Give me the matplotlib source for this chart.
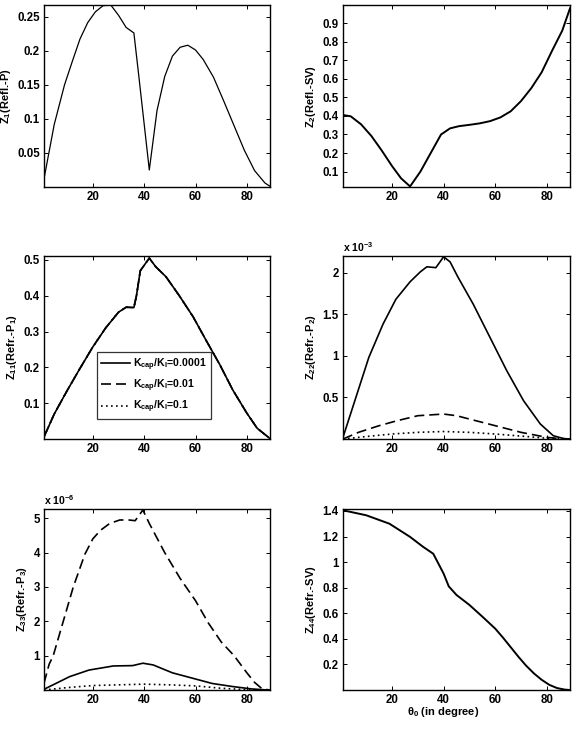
import numpy as np
import matplotlib
matplotlib.use("Agg")
import matplotlib.pyplot as plt

plt.rcParams['font.family'] = ['Liberation Sans', 'DejaVu Sans']
plt.rcParams['font.weight'] = 'bold'
plt.rcParams['mathtext.fontset'] = 'custom'
plt.rcParams['mathtext.rm'] = 'Liberation Sans:bold'
plt.rcParams['mathtext.it'] = 'Liberation Sans:bold'
plt.rcParams['mathtext.bf'] = 'Liberation Sans:bold'
plt.rcParams['mathtext.default'] = 'rm'

# ---------------- data ----------------
# Z1 (Refl.-P)
z1_x = [1, 5, 9, 12, 15, 18, 21, 24, 27, 30, 33, 36, 38, 42, 45, 48, 51, 54, 57, 60, 63, 67, 71, 75, 79, 83, 87, 89]
z1_y = [0.012, 0.092, 0.150, 0.184, 0.217, 0.241, 0.257, 0.266, 0.267, 0.252, 0.234, 0.226, 0.160, 0.025,
        0.112, 0.162, 0.192, 0.205, 0.208, 0.201, 0.187, 0.161, 0.126, 0.090, 0.054, 0.024, 0.006, 0.001]

# Z2 (Refl.-SV)
z2_x = [1, 4, 8, 12, 16, 20, 23.5, 27, 31, 35, 39, 42.5, 46, 50, 54, 58, 62, 66, 70, 74, 78, 82, 86, 89]
z2_y = [0.405, 0.398, 0.355, 0.292, 0.214, 0.13, 0.064, 0.02, 0.10, 0.20, 0.30, 0.333, 0.345, 0.352, 0.36,
        0.372, 0.392, 0.425, 0.48, 0.55, 0.635, 0.75, 0.86, 0.98]

# Z11 (Refr.-P1) -- the three ratios coincide
z11_x = [1, 5, 10, 15, 20, 25, 30, 33, 36, 37, 38.5, 42, 44.5, 48.5, 53.5, 59, 64, 69.5, 74.5, 80, 84, 88, 89]
z11_y = [0.006, 0.07, 0.135, 0.197, 0.257, 0.31, 0.354, 0.368, 0.367, 0.40, 0.47, 0.505, 0.481, 0.453,
         0.402, 0.342, 0.277, 0.207, 0.137, 0.072, 0.030, 0.007, 0.001]

# Z22 (Refr.-P2), units of 1e-3
z22_x = [1, 6, 11, 16.5, 21.5, 27, 31, 33.5, 37, 40, 42.5, 45.5, 51.5, 58, 64.5, 71, 77.5, 82.5, 86.5, 89]
z22_a = [0.02, 0.50, 0.98, 1.38, 1.68, 1.89, 2.01, 2.07, 2.06, 2.19, 2.13, 1.95, 1.62, 1.22, 0.82, 0.46,
         0.18, 0.04, 0.005, 0.0]
z22_bx = [1, 7, 15, 22, 30, 35, 40, 45, 50, 55, 60, 65, 70, 75, 80, 85, 89]
z22_b = [0.0, 0.08, 0.16, 0.22, 0.28, 0.29, 0.30, 0.28, 0.24, 0.20, 0.16, 0.12, 0.08, 0.05, 0.02, 0.005, 0.0]
z22_cx = [1, 10, 20, 30, 40, 50, 60, 70, 80, 89]
z22_c = [0.0, 0.03, 0.06, 0.08, 0.09, 0.08, 0.06, 0.035, 0.01, 0.0]

# Z33 (Refr.-P3), units of 1e-6
z33_ax = [1, 11, 18.5, 28, 35.5, 39.5, 43.5, 51, 59, 66.5, 74.5, 82, 88]
z33_a = [0.02, 0.39, 0.58, 0.70, 0.71, 0.78, 0.73, 0.50, 0.34, 0.19, 0.10, 0.03, 0.0]
z33_bx = [1, 3, 4.6, 8.5, 12.4, 16.9, 20, 23, 26.6, 30.5, 34, 36.5, 39.5, 42, 48, 54, 60, 65, 70, 75, 78, 80,
          83, 86, 89]
z33_b = [0.2, 0.75, 1.0, 2.0, 3.0, 3.95, 4.4, 4.65, 4.85, 4.95, 4.95, 4.93, 5.24, 4.85, 4.0, 3.25, 2.6, 1.95,
         1.4, 1.0, 0.7, 0.5, 0.22, 0.03, 0.0]
z33_cx = [1, 10, 20, 30, 40, 50, 60, 70, 80, 89]
z33_c = [0.0, 0.07, 0.13, 0.15, 0.17, 0.15, 0.12, 0.05, 0.01, 0.0]

# Z44 (Refr.-SV)
z44_x = [1, 10, 19, 27, 32, 36, 40, 42, 45, 50, 55, 60, 63, 66, 69, 72, 75, 78, 81, 84, 87, 89]
z44_y = [1.405, 1.366, 1.30, 1.197, 1.12, 1.065, 0.91, 0.81, 0.743, 0.665, 0.574, 0.48, 0.41, 0.335, 0.26,
         0.19, 0.13, 0.08, 0.04, 0.015, 0.003, 0.0]

legend_labels = [r"K$_{cap}$/K$_l$=0.0001", r"K$_{cap}$/K$_l$=0.01", r"K$_{cap}$/K$_l$=0.1"]
x_ticks = [20, 40, 60, 80]

# ---------------- figure ----------------
fig = plt.figure(figsize=(5.75, 7.37), dpi=100)
W, H = 575.0, 737.0

def make_ax(l, t, r, b):
    return fig.add_axes([l / W, 1 - b / H, (r - l) / W, (b - t) / H])

ax1 = make_ax(44, 5, 270, 187)
ax2 = make_ax(343, 5, 570, 187)
ax3 = make_ax(44, 256, 270, 439)
ax4 = make_ax(343, 256, 570, 439)
ax5 = make_ax(44, 509, 270, 690)
ax6 = make_ax(343, 509, 570, 690)

FS = 8.3
LFS = 8.0

def style(ax, ylim, yticks, ylabel):
    ax.set_xlim(1, 89)
    ax.set_ylim(*ylim)
    ax.set_xticks(x_ticks)
    ax.set_xticklabels([str(t) for t in x_ticks])
    ax.set_yticks(yticks)
    ax.set_yticklabels([('%g' % t) for t in yticks])
    ax.tick_params(direction='in', length=3, width=0.7, top=True, right=True, labelsize=FS, pad=3)
    for lab in ax.get_xticklabels() + ax.get_yticklabels():
        lab.set_fontweight('bold')
    for s in ax.spines.values():
        s.set_linewidth(1.0)
    ax.set_ylabel(ylabel, fontsize=LFS, fontweight='bold', labelpad=3)

lw = 1.2
ax1.plot(z1_x, z1_y, color='black', lw=0.9)
style(ax1, (0, 0.267), [0.05, 0.1, 0.15, 0.2, 0.25], r"Z$_1$(Refl.-P)")

ax2.plot(z2_x, z2_y, color='black', lw=1.4)
style(ax2, (0.017, 0.998), [0.1, 0.2, 0.3, 0.4, 0.5, 0.6, 0.7, 0.8, 0.9], r"Z$_2$(Refl.-SV)")

h1, = ax3.plot(z11_x, z11_y, color='black', lw=lw, ls='-')
h2, = ax3.plot(z11_x, z11_y, color='black', lw=lw, ls=(0, (6, 3)), zorder=1)
h3, = ax3.plot(z11_x, z11_y, color='black', lw=lw, ls=(0, (1, 2)), zorder=0)
style(ax3, (0, 0.511), [0.1, 0.2, 0.3, 0.4, 0.5], r"Z$_{11}$(Refr.-P$_1$)")
leg = ax3.legend([h1, h2, h3], legend_labels, loc='upper left', bbox_to_anchor=(0.235, 0.475),
                 fontsize=7.6, frameon=True, fancybox=False, edgecolor='black', handlelength=2.7,
                 borderpad=0.4, labelspacing=0.45, handletextpad=0.3, borderaxespad=0)
leg.get_frame().set_linewidth(0.9)
for t in leg.get_texts():
    t.set_fontweight('bold')

ax4.plot(z22_x, z22_a, color='black', lw=lw, ls='-')
ax4.plot(z22_bx, z22_b, color='black', lw=lw, ls=(0, (6, 3)))
ax4.plot(z22_cx, z22_c, color='black', lw=lw, ls=(0, (1, 2)))
style(ax4, (0, 2.2), [0.5, 1, 1.5, 2], r"Z$_{22}$(Refr.-P$_2$)")
ax4.text(0.0, 1.01, r"x 10$^{-3}$", transform=ax4.transAxes, fontsize=7.6, fontweight='bold',
         ha='left', va='bottom')

ax5.plot(z33_ax, z33_a, color='black', lw=lw, ls='-')
ax5.plot(z33_bx, z33_b, color='black', lw=lw, ls=(0, (6, 3)))
ax5.plot(z33_cx, z33_c, color='black', lw=lw, ls=(0, (1, 2)))
style(ax5, (0, 5.27), [1, 2, 3, 4, 5], r"Z$_{33}$(Refr.-P$_3$)")
ax5.text(0.0, 1.01, r"x 10$^{-6}$", transform=ax5.transAxes, fontsize=7.6, fontweight='bold',
         ha='left', va='bottom')

ax6.plot(z44_x, z44_y, color='black', lw=1.4)
style(ax6, (0, 1.415), [0.2, 0.4, 0.6, 0.8, 1, 1.2, 1.4], r"Z$_{44}$(Refr.-SV)")
ax6.set_xlabel(r"θ$_0$ (in degree)", fontsize=LFS, fontweight='bold', labelpad=2)
ax6.xaxis.set_label_coords(0.44, -0.085)

fig.savefig("out.png", dpi=100)
